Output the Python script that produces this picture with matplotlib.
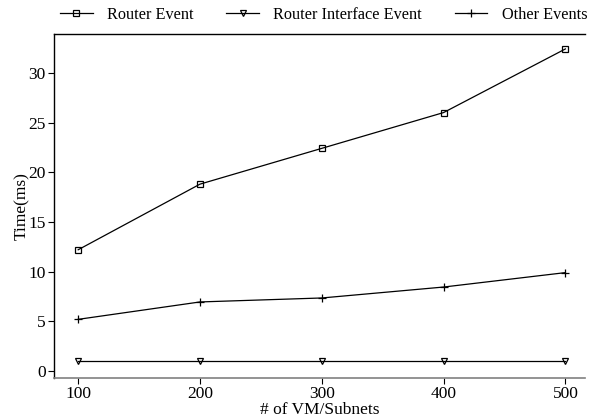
import matplotlib
matplotlib.use("Agg")
import matplotlib.pyplot as plt

plt.rcParams['font.family'] = ['Liberation Serif', 'DejaVu Serif']

# data
vm_subnets = [100, 200, 300, 400, 500]
router_event = [12.2, 18.8, 22.4, 26.0, 32.4]
router_if_event = [1.0, 1.0, 1.0, 1.0, 1.0]
other_events = [5.2, 6.95, 7.35, 8.45, 9.9]

fig = plt.figure(figsize=(5.89, 4.2), dpi=100)
ax = fig.add_axes([0.092, 0.1, 0.901, 0.819])

ax.plot(vm_subnets, router_event, 'k-', lw=0.9, marker='s', ms=5,
        mfc='none', mew=0.9, label='Router Event')
ax.plot(vm_subnets, router_if_event, 'k-', lw=0.9, marker='v', ms=5,
        mfc='none', mew=0.9, label='Router Interface Event')
ax.plot(vm_subnets, other_events, 'k-', lw=0.9, marker='+', ms=6,
        mew=0.9, label='Other Events')

ax.set_xlim(80.3, 516)
ax.set_ylim(-0.7, 33.9)
ax.set_xticks(vm_subnets)
ax.set_yticks([0, 5, 10, 15, 20, 25, 30])
ax.tick_params(labelsize=12.5, length=4, width=0.8, color='k', pad=2)
ax.set_xlabel('# of VM/Subnets', fontsize=12.5, labelpad=0)
ax.set_ylabel('Time(ms)', fontsize=12.5, labelpad=-1)

ax.spines['right'].set_visible(False)
ax.spines['bottom'].set_color('#808080')
ax.spines['bottom'].set_linewidth(1.2)
for s in ['left', 'top']:
    ax.spines[s].set_linewidth(1.0)

fig.legend(loc='lower left', bbox_to_anchor=(60 / 589, 0.945), ncol=3, frameon=False,
           fontsize=11.7, handlelength=2.0, handletextpad=0.9, columnspacing=2.0,
           borderpad=0, borderaxespad=0)

fig.savefig('out.png', dpi=100)
